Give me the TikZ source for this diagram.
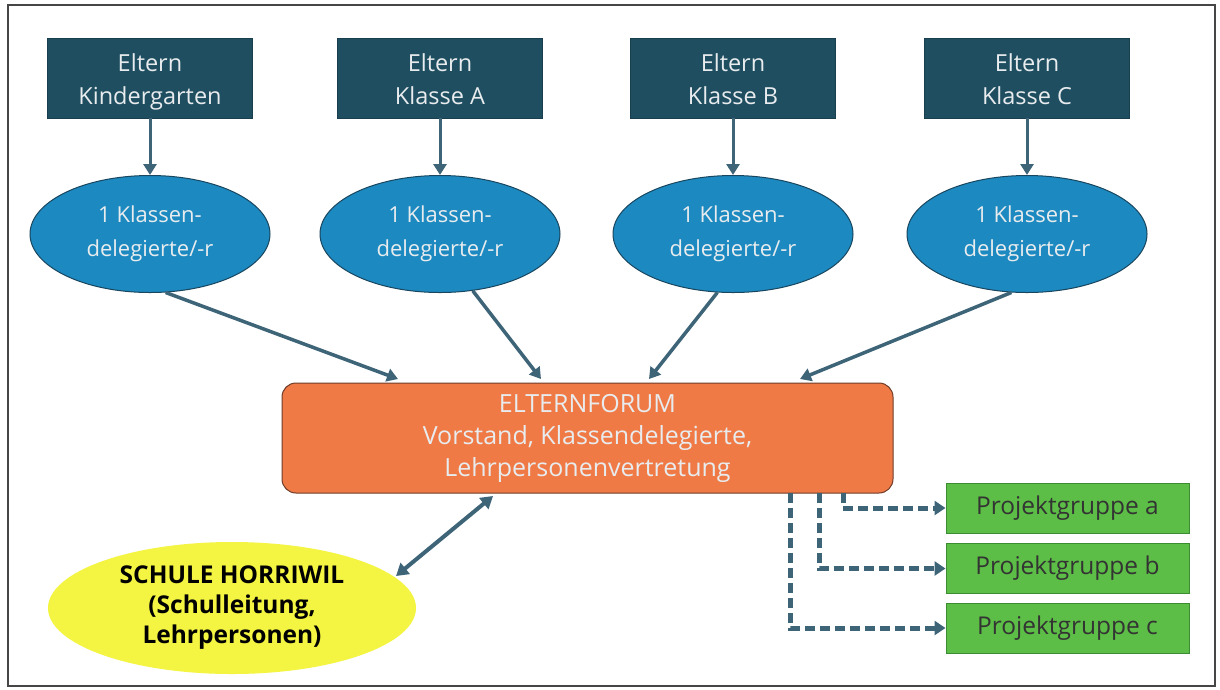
\documentclass[tikz,border=0pt]{standalone}
\usepackage{fontspec}
\setmainfont{Open Sans}
\usetikzlibrary{shapes.geometric,arrows.meta}
\definecolor{topbox}{RGB}{31,78,96}
\definecolor{ellblue}{RGB}{28,137,192}
\definecolor{ellborder}{RGB}{25,70,95}
\definecolor{forum}{RGB}{240,122,70}
\definecolor{forumborder}{RGB}{110,60,40}
\definecolor{arrowc}{RGB}{62,100,120}
\definecolor{yell}{RGB}{244,244,66}
\definecolor{grn}{RGB}{92,190,70}
\definecolor{grnborder}{RGB}{60,140,50}
\definecolor{lighttxt}{RGB}{232,236,238}
\definecolor{framec}{RGB}{70,70,70}
\tikzset{
  elternbox/.style={draw=topbox!80!black, fill=topbox, minimum width=205pt, minimum height=80pt, inner sep=0pt},
  etext/.style={text=lighttxt, align=center, font=\fontsize{23.5}{33}\selectfont, inner sep=0pt, text depth=0pt, yshift=-1pt},
  delell/.style={ellipse, draw=ellborder, line width=1pt, fill=ellblue, minimum width=240pt, minimum height=117pt, text=lighttxt, align=center, font=\fontsize{22}{34}\selectfont, inner sep=0pt},
  forumbox/.style={draw=forumborder, line width=1pt, fill=forum, rounded corners=14pt, minimum width=611pt, minimum height=110pt, text=lighttxt, align=center, font=\fontsize{25}{32}\selectfont, inner sep=0pt},
  schuleell/.style={ellipse, fill=yell, minimum width=368pt, minimum height=132pt, align=center, font=\bfseries\fontsize{24.5}{30}\selectfont, inner sep=0pt},
  projbox/.style={draw=grnborder, line width=1pt, fill=grn, minimum width=243pt, minimum height=50pt, text=black!80, align=center, font=\fontsize{24.5}{26}\selectfont, inner sep=0pt},
  conn/.style={draw=arrowc, line width=3.5pt, -{Triangle[width=13pt,length=11pt]}},
  dconn/.style={draw=arrowc, line width=5pt, dash pattern=on 10pt off 5pt, -{Triangle[width=14pt,length=11pt]}},
}
\begin{document}
\begin{tikzpicture}[x=1pt,y=-1pt]
\useasboundingbox (0,0) rectangle (1220,689);
\fill[white] (0,0) rectangle (1220,689);
\draw[framec, line width=2pt] (8,5) rectangle (1215,686);
% top boxes
\node[elternbox, label={[etext]center:{Eltern\\Kindergarten}}] (e1) at (150,78) {};
\node[elternbox, label={[etext]center:{Eltern\\Klasse A}}] (e2) at (440,78) {};
\node[elternbox, label={[etext]center:{Eltern\\Klasse B}}] (e3) at (733,78) {};
\node[elternbox, label={[etext]center:{Eltern\\Klasse C}}] (e4) at (1027,78) {};
% ellipses
\node[delell] (d1) at (150,234) {1 Klassen-\\delegierte/-r};
\node[delell] (d2) at (440,234) {1 Klassen-\\delegierte/-r};
\node[delell] (d3) at (733,234) {1 Klassen-\\delegierte/-r};
\node[delell] (d4) at (1027,234) {1 Klassen-\\delegierte/-r};
% forum
\node[forumbox] (f) at (587.5,438) {ELTERNFORUM\\Vorstand, Klassendelegierte,\\Lehrpersonenvertretung};
% schule
\node[schuleell] (s) at (232,608) {SCHULE HORRIWIL\\(Schulleitung,\\Lehrpersonen)};
% projects
\node[projbox] (pa) at (1067.5,508) {Projektgruppe a};
\node[projbox] (pb) at (1067.5,568.5) {Projektgruppe b};
\node[projbox] (pc) at (1067.5,628) {Projektgruppe c};
% arrows top
\draw[conn, line width=3pt] (e1.south) -- (d1.north);
\draw[conn, line width=3pt] (e2.south) -- (d2.north);
\draw[conn, line width=3pt] (e3.south) -- (d3.north);
\draw[conn, line width=3pt] (e4.south) -- (d4.north);
% to forum
\coordinate (t1) at (398,379);
\coordinate (t2) at (541,379);
\coordinate (t3) at (649,379);
\coordinate (t4) at (800,379);
\draw[conn] (d1.-75) -- (t1);
\draw[conn] (d2.-60) -- (t2);
\draw[conn] (d3.-105) -- (t3);
\draw[conn] (d4.-105) -- (t4);
% double arrow
\coordinate (fa) at (493,496);
\coordinate (sa) at (396,576);
\draw[draw=arrowc, line width=4pt, {Triangle[width=14pt,length=12pt]}-{Triangle[width=14pt,length=12pt]}] (sa) -- (fa);
% dashed
\coordinate (fb1) at (843,493);
\coordinate (fb2) at (819,493);
\coordinate (fb3) at (790,493);
\draw[dconn] (fb1) |- (pa.west);
\draw[dconn] (fb2) |- (pb.west);
\draw[dconn] (fb3) |- (pc.west);
\end{tikzpicture}
\end{document}
